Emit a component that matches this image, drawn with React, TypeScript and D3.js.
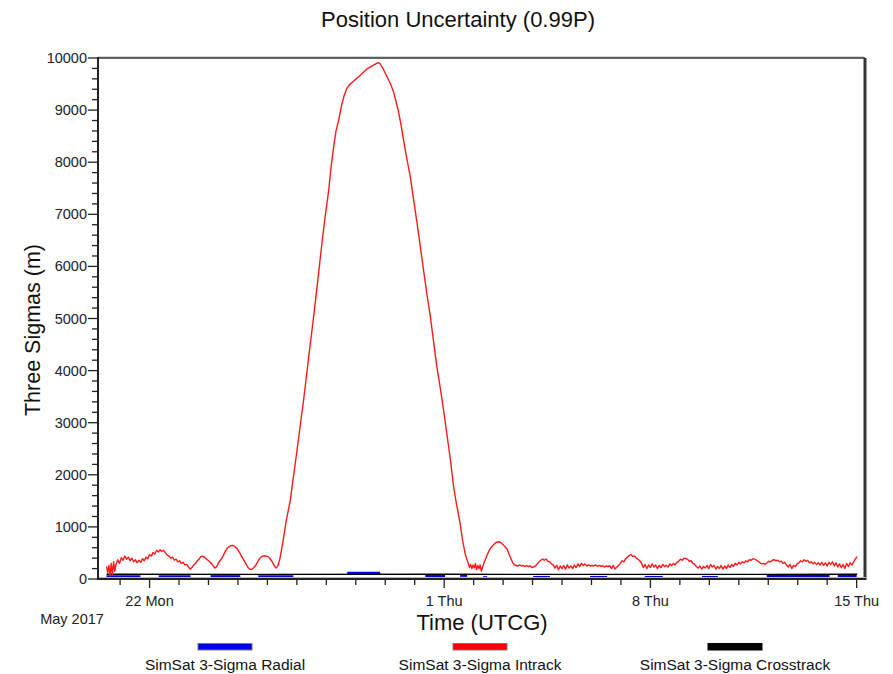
import React from "react";
import * as d3 from "d3";

// ---- data (day-of-May fractional; 32 = June 1) ----
const intrack: [number, number][] = [
  [20.54, 240], [20.58, 120], [20.62, 260], [20.66, 60], [20.7, 300], [20.74, 90], [20.78, 330], [20.82, 150],
  [20.86, 280], [20.92, 370], [20.98, 300], [21.04, 410], [21.1, 360], [21.16, 440], [21.22, 380], [21.28, 420],
  [21.34, 350], [21.4, 400], [21.46, 330], [21.52, 370], [21.58, 310], [21.64, 360], [21.7, 320], [21.76, 390],
  [21.82, 350], [21.88, 420], [21.94, 390], [22.0, 470], [22.06, 440], [22.12, 510], [22.18, 480], [22.24, 550],
  [22.3, 520], [22.36, 560], [22.42, 530], [22.48, 550], [22.54, 500], [22.6, 460], [22.66, 440], [22.72, 400],
  [22.78, 420], [22.84, 360], [22.9, 380], [22.96, 330], [23.02, 350], [23.08, 300], [23.14, 320], [23.2, 270],
  [23.26, 280], [23.32, 230], [23.38, 190], [23.44, 220], [23.5, 270], [23.56, 300], [23.62, 350], [23.68, 380],
  [23.74, 430], [23.8, 440], [23.86, 420], [23.92, 390], [23.98, 360], [24.04, 330], [24.1, 300], [24.16, 250],
  [24.22, 210], [24.28, 240], [24.34, 310], [24.4, 360], [24.46, 400], [24.52, 470], [24.58, 540], [24.64, 590],
  [24.7, 620], [24.76, 640], [24.82, 645], [24.88, 630], [24.94, 600], [25.0, 560], [25.06, 500], [25.12, 440],
  [25.18, 380], [25.24, 320], [25.3, 260], [25.36, 210], [25.42, 185], [25.48, 190], [25.54, 220], [25.6, 260],
  [25.66, 320], [25.72, 380], [25.78, 420], [25.84, 440], [25.9, 445], [25.96, 440], [26.02, 430], [26.08, 400],
  [26.14, 350], [26.2, 290], [26.26, 230], [26.3, 210], [26.36, 260], [26.42, 380], [26.48, 560], [26.55, 800],
  [26.65, 1150], [26.78, 1520], [26.84, 1780], [27.0, 2450], [27.23, 3440], [27.4, 4250], [27.57, 5040],
  [27.72, 5780], [27.85, 6440], [27.96, 6950], [28.08, 7460], [28.16, 7900], [28.25, 8300], [28.33, 8600],
  [28.42, 8810], [28.52, 9100], [28.61, 9290], [28.7, 9420], [28.81, 9500], [28.95, 9570], [29.1, 9640],
  [29.25, 9720], [29.38, 9790], [29.5, 9830], [29.62, 9870], [29.72, 9900], [29.78, 9910], [29.83, 9885],
  [29.94, 9780], [30.06, 9640], [30.18, 9500], [30.28, 9350], [30.37, 9160], [30.45, 8970], [30.54, 8700],
  [30.62, 8430], [30.73, 8080], [30.85, 7720], [30.96, 7290], [31.08, 6830], [31.19, 6380], [31.3, 5930],
  [31.41, 5480], [31.53, 5040], [31.64, 4560], [31.75, 4080], [31.87, 3660], [31.98, 3240], [32.1, 2750],
  [32.22, 2250], [32.32, 1770], [32.43, 1400], [32.54, 1070], [32.62, 760], [32.71, 490], [32.78, 360],
  [32.82, 300], [32.86, 220], [32.9, 280], [32.94, 200], [32.98, 270], [33.02, 210], [33.06, 300], [33.1, 180],
  [33.14, 260], [33.18, 200], [33.22, 270], [33.26, 150], [33.3, 220], [33.34, 290], [33.4, 380], [33.46, 460],
  [33.52, 540], [33.6, 610], [33.68, 660], [33.76, 700], [33.84, 715], [33.92, 700], [34.0, 660], [34.08, 610],
  [34.14, 570], [34.2, 480], [34.26, 400], [34.32, 320], [34.38, 270], [34.44, 260], [34.5, 250], [34.56, 270],
  [34.62, 250], [34.68, 260], [34.74, 240], [34.8, 255], [34.86, 240], [34.92, 250], [34.98, 220], [35.04, 230],
  [35.1, 250], [35.16, 290], [35.22, 330], [35.28, 360], [35.34, 380], [35.4, 360], [35.46, 385], [35.52, 340],
  [35.58, 330], [35.64, 290], [35.7, 270], [35.76, 210], [35.82, 260], [35.88, 180], [35.94, 250], [36.0, 200],
  [36.06, 260], [36.12, 190], [36.18, 270], [36.24, 210], [36.3, 250], [36.36, 200], [36.42, 270], [36.48, 220],
  [36.54, 290], [36.6, 240], [36.66, 300], [36.72, 260], [36.78, 290], [36.84, 250], [36.9, 270], [36.96, 250],
  [37.02, 260], [37.08, 250], [37.14, 270], [37.2, 240], [37.26, 260], [37.32, 245], [37.38, 255], [37.44, 230],
  [37.5, 250], [37.56, 240], [37.62, 255], [37.68, 200], [37.74, 260], [37.8, 190], [37.86, 230], [37.92, 260],
  [37.98, 300], [38.04, 350], [38.1, 330], [38.16, 390], [38.22, 420], [38.28, 450], [38.34, 470], [38.4, 430],
  [38.46, 440], [38.52, 400], [38.58, 380], [38.64, 350], [38.7, 300], [38.76, 220], [38.82, 280], [38.88, 200],
  [38.94, 270], [39.0, 220], [39.06, 290], [39.12, 230], [39.18, 270], [39.24, 200], [39.3, 260], [39.36, 220],
  [39.42, 280], [39.48, 240], [39.54, 260], [39.6, 230], [39.66, 290], [39.72, 260], [39.78, 300], [39.84, 270],
  [39.9, 320], [39.96, 340], [40.02, 380], [40.08, 360], [40.14, 400], [40.2, 390], [40.26, 380], [40.32, 340],
  [40.38, 350], [40.44, 300], [40.5, 280], [40.56, 240], [40.62, 210], [40.68, 250], [40.74, 190], [40.8, 240],
  [40.86, 210], [40.92, 260], [40.98, 200], [41.04, 280], [41.1, 230], [41.16, 260], [41.22, 190], [41.28, 240],
  [41.34, 200], [41.4, 260], [41.46, 190], [41.52, 250], [41.58, 200], [41.64, 270], [41.7, 220], [41.76, 280],
  [41.82, 240], [41.88, 300], [41.94, 270], [42.0, 320], [42.06, 290], [42.12, 330], [42.18, 310], [42.24, 350],
  [42.3, 330], [42.36, 370], [42.42, 360], [42.48, 390], [42.54, 380], [42.6, 360], [42.66, 340], [42.72, 310],
  [42.78, 290], [42.84, 300], [42.9, 280], [42.96, 310], [43.02, 340], [43.08, 330], [43.14, 360], [43.2, 370],
  [43.26, 350], [43.32, 360], [43.38, 330], [43.44, 340], [43.5, 300], [43.56, 320], [43.62, 270], [43.68, 230],
  [43.74, 280], [43.8, 200], [43.86, 260], [43.92, 240], [43.98, 290], [44.04, 310], [44.1, 350], [44.16, 330],
  [44.22, 370], [44.28, 340], [44.34, 360], [44.4, 310], [44.46, 330], [44.52, 290], [44.58, 320], [44.64, 280],
  [44.7, 310], [44.76, 270], [44.82, 320], [44.88, 260], [44.94, 310], [45.0, 250], [45.06, 320], [45.12, 280],
  [45.18, 330], [45.24, 250], [45.3, 310], [45.36, 230], [45.42, 290], [45.48, 220], [45.54, 280], [45.6, 200],
  [45.66, 300], [45.72, 240], [45.78, 310], [45.84, 270], [45.9, 330], [45.96, 390], [46.02, 430],
];

// radial: visible segments [startDay, endDay, value]
const radialSegments: [number, number, number][] = [
  [20.54, 21.69, 50], [22.31, 23.39, 50], [24.07, 25.08, 50], [25.69, 26.88, 50],
  [28.71, 29.83, 115], [31.36, 32.03, 55], [32.54, 32.78, 65], [33.32, 33.46, 30],
  [35.02, 35.59, 35], [36.95, 37.53, 35], [38.81, 39.42, 35], [40.75, 41.29, 35],
  [42.95, 45.08, 55], [45.36, 46.0, 60],
];

const crosstrack: [number, number][] = [
  [20.54, 90], [26.0, 88], [32.0, 90], [40.0, 88], [46.02, 90],
];

const yTickValues = [0, 1000, 2000, 3000, 4000, 5000, 6000, 7000, 8000, 9000, 10000];
const yMinorStep = 200;
const xLabelDays = [22, 32, 39, 46];
const xTickLabels = ["22 Mon", "1 Thu", "8 Thu", "15 Thu"];

const legendItems = ["SimSat 3-Sigma Radial", "SimSat 3-Sigma Intrack", "SimSat 3-Sigma Crosstrack"];
const legendColors = ["#0000e6", "#ff0000", "#000000"];

const title = "Position Uncertainty (0.99P)";
const yTitle = "Three Sigmas (m)";
const xTitle = "Time (UTCG)";
const dateCaption = "May 2017";

const DAY = 86400000;
const toDate = (d: number) => new Date(Date.UTC(2017, 4, 1) + (d - 1) * DAY);

export default function App() {
  const W = 893, H = 674;
  const left = 98, right = 864, top = 58, bottom = 579;
  const font = "'Liberation Sans', Arial, sans-serif";

  const x = d3.scaleUtc()
    .domain([new Date(Date.UTC(2017, 4, 20, 6)), new Date(Date.UTC(2017, 5, 15, 6))])
    .range([left, right]);
  const y = d3.scaleLinear().domain([0, 10000]).range([bottom, top]);

  const line = d3.line<[number, number]>()
    .x((p) => x(toDate(p[0])))
    .y((p) => y(p[1]));

  const dayTicks = d3.utcDay.range(x.domain()[0], x.domain()[1]);
  const labelTimes = xLabelDays.map((d) => +toDate(d));
  const minorY = d3.range(0, 10000 + 1, yMinorStep);

  return (
    <svg width={W} height={H} style={{ position: "absolute", left: 0, top: 0, background: "#fff" }} fontFamily={font}>
      <rect x={0} y={0} width={W} height={H} fill="#fff" />
      <text x={458} y={27} textAnchor="middle" fontSize={22} fill="#111">{title}</text>

      <defs>
        <clipPath id="plotclip">
          <rect x={left} y={top} width={right - left} height={bottom - top} />
        </clipPath>
      </defs>

      <g clipPath="url(#plotclip)">
        {radialSegments.map((s, i) => (
          <path key={i} d={line([[s[0], s[2]], [s[1], s[2]]]) || ""} stroke="#0000e6" strokeWidth={2.5} fill="none" />
        ))}
        <path d={line(crosstrack) || ""} stroke="#000" strokeWidth={1.4} fill="none" />
        <path d={line(intrack) || ""} stroke="#ff1a1a" strokeWidth={1.4} fill="none" strokeLinejoin="round" />
      </g>

      {/* frame */}
      <line x1={left} x2={right} y1={top - 1} y2={top - 1} stroke="#aaa" strokeWidth={1} />
      <line x1={left} x2={right + 1} y1={top} y2={top} stroke="#333" strokeWidth={1.5} />
      <line x1={right + 1} x2={right + 1} y1={top} y2={bottom + 1} stroke="#333" strokeWidth={3} />
      <line x1={left} x2={right + 2} y1={bottom - 1.5} y2={bottom - 1.5} stroke="#bbb" strokeWidth={1} />
      <line x1={left - 1} x2={right + 2} y1={bottom} y2={bottom} stroke="#222" strokeWidth={2} />
      <line x1={left} x2={left} y1={top - 1} y2={bottom + 1} stroke="#222" strokeWidth={2} />

      {/* y ticks */}
      {minorY.map((v) => {
        const major = v % 1000 === 0;
        return (
          <line key={"ym" + v} x1={left - (major ? 10 : 6)} x2={left} y1={y(v)} y2={y(v)} stroke="#222" strokeWidth={1.3} />
        );
      })}
      {yTickValues.map((v) => (
        <text key={"yl" + v} x={left - 11} y={y(v) + 5} textAnchor="end" fontSize={14.5} fill="#222">{v}</text>
      ))}

      {/* x ticks */}
      {dayTicks.map((t) => {
        const major = labelTimes.includes(+t);
        return (
          <line key={"xt" + +t} x1={x(t)} x2={x(t)} y1={bottom} y2={bottom + (major ? 9 : 6)} stroke="#222" strokeWidth={1.3} />
        );
      })}
      {xLabelDays.map((d, i) => (
        <text key={"xl" + d} x={x(toDate(d))} y={606} textAnchor="middle" fontSize={14.5} fill="#222">{xTickLabels[i]}</text>
      ))}
      <text x={72} y={624} textAnchor="middle" fontSize={14.5} fill="#222">{dateCaption}</text>

      <text x={482} y={630} textAnchor="middle" fontSize={22} fill="#111">{xTitle}</text>
      <text transform={`translate(40,330) rotate(-90)`} textAnchor="middle" fontSize={21.5} fill="#111">{yTitle}</text>

      {/* legend */}
      {legendItems.map((name, i) => {
        const cx = 225 + i * 255;
        return (
          <g key={name}>
            <rect x={cx - 27} y={643.5} width={54} height={6.5} fill={legendColors[i]} stroke={i === 2 ? "#000" : "#777"} strokeWidth={1} />
            <text x={cx} y={670} textAnchor="middle" fontSize={15.5} fill="#111">{name}</text>
          </g>
        );
      })}
    </svg>
  );
}
